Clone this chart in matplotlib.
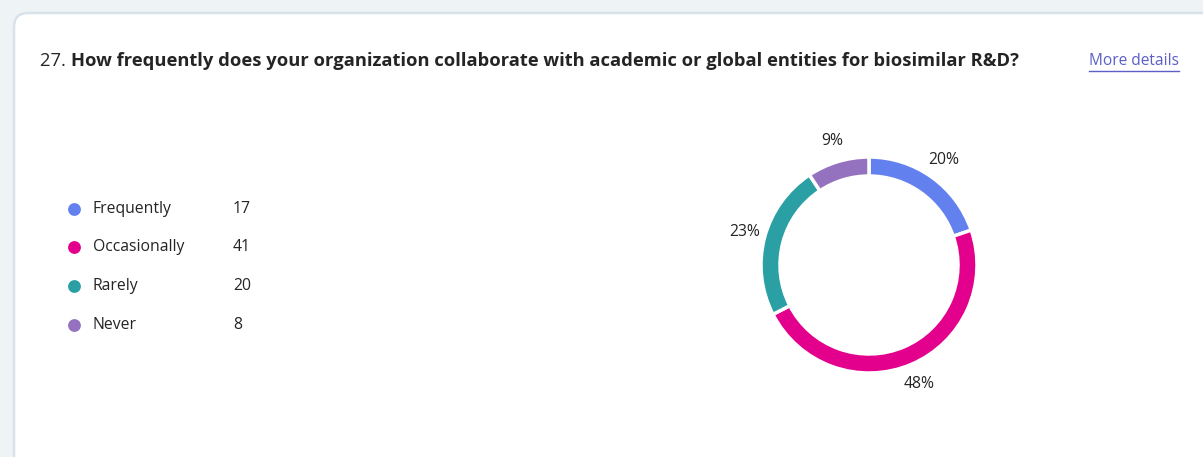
import matplotlib
matplotlib.use("Agg")
import matplotlib.pyplot as plt
from matplotlib.patches import FancyBboxPatch

# Survey responses
categories = ["Frequently", "Occasionally", "Rarely", "Never"]
counts = [17, 41, 20, 8]
colors = ["#6381ee", "#e3008c", "#2aa0a4", "#9472c0"]
question_no = "27."
question = "How frequently does your organization collaborate with academic or global entities for biosimilar R&D?"
link_text = "More details"

W, H = 1203, 457
plt.rcParams["font.family"] = ["Open Sans", "DejaVu Sans"]
TEXT = "#242424"

fig = plt.figure(figsize=(W / 100, H / 100), dpi=100)
fig.patch.set_facecolor("#eef3f6")

# Full-figure axes in pixel coordinates (y grows downward)
bg = fig.add_axes([0, 0, 1, 1])
bg.set_xlim(0, W)
bg.set_ylim(H, 0)
bg.axis("off")

# Card with soft border
card = FancyBboxPatch((14, 13), W + 20, H + 20,
                      boxstyle="round,pad=0,rounding_size=14",
                      facecolor="white", edgecolor="#d8e2eb", linewidth=1.8)
bg.add_patch(card)


def px_to_data_x(px):
    return bg.transData.inverted().transform((px, 0))[0]


# Question title: plain number followed by bold question
t1 = bg.text(40, 61, question_no + " ", fontsize=13.2, color=TEXT, va="center", ha="left")
fig.canvas.draw()
renderer = fig.canvas.get_renderer()
x_next = px_to_data_x(t1.get_window_extent(renderer).x1)
bg.text(x_next, 61, question, fontsize=13.2, fontweight="bold", color=TEXT,
        va="center", ha="left")

# Link with underline
lk = bg.text(1179, 61, link_text, fontsize=11.2, color="#5b5fc7", va="center", ha="right")
fig.canvas.draw()
lb = lk.get_window_extent(fig.canvas.get_renderer())
bg.plot([px_to_data_x(lb.x0), px_to_data_x(lb.x1)], [70.5, 70.5], color="#5b5fc7", linewidth=1)

# Legend
row_y = [209, 247, 286, 325]
for name, val, c, y in zip(categories, counts, colors, row_y):
    bg.scatter([74], [y], s=85, color=c, zorder=3, linewidths=0)
    bg.text(93, y, name, fontsize=11.3, color=TEXT, va="center", ha="left")
    bg.text(233, y, str(val), fontsize=11.3, color=TEXT, va="center", ha="left")

# Donut chart
cx, cy, half = 869, 265, 150
ax = fig.add_axes([(cx - half) / W, (H - cy - half) / H, 2 * half / W, 2 * half / H])
ax.set_aspect("equal")
ax.axis("off")
R = 108
wedges, _, autotexts = ax.pie(
    counts, colors=colors, radius=R, startangle=90, counterclock=False,
    wedgeprops=dict(width=19, edgecolor="white", linewidth=2.5),
    autopct="%.0f%%", pctdistance=129 / R,
    textprops=dict(fontsize=11.3, color=TEXT),
)
for t in autotexts:
    t.set_ha("center")
    t.set_va("center")
ax.set_xlim(-half, half)
ax.set_ylim(-half, half)

fig.savefig("out.png", dpi=100, facecolor=fig.get_facecolor())
